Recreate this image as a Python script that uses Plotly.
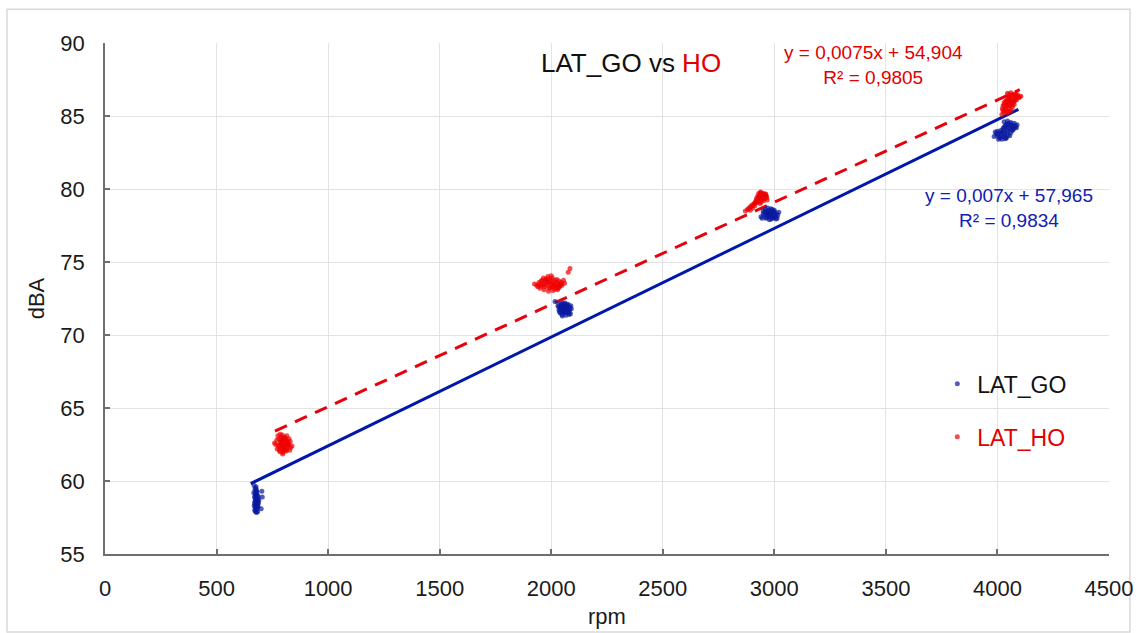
import plotly.graph_objects as go

# ---- data ----
go_x_a = [668,672,675,678,681,684,670,674,677,680,683,687,669,673,676,679,682,685,671,675,678,681,686,690,703,705,700,667,677,684,
          674,678,680,676,682,672,679,681,675,677,683,673,680,678,685,671,676,688,674,679]
go_y_a = [59.7,59.4,59.5,59.1,59.3,59.0,58.9,58.7,58.8,58.5,58.6,58.9,58.3,58.4,58.1,58.2,58.5,58.3,58.0,57.9,58.6,58.8,58.2,58.7,59.3,58.9,58.1,59.2,59.6,57.9,
          59.2,58.9,58.7,58.5,58.4,58.6,58.3,58.1,58.8,59.0,58.7,58.2,59.2,59.4,58.6,58.5,58.0,58.5,59.0,57.85]
go_x_b = [2030,2038,2045,2052,2060,2068,2075,2083,2035,2042,2050,2058,2066,2073,2081,2088,2040,2048,2056,2064,2072,2080,2046,2054,2062,2070,2017,2090,2034,2078,
          2044,2050,2056,2062,2068,2074,2040,2052,2064,2076,2046,2058,2070,2082,2050,2066,2086,2038,2060,2072]
go_y_b = [72.0,72.1,71.9,72.2,72.0,71.8,72.1,71.9,71.7,71.8,71.6,71.9,71.7,71.8,71.6,72.0,71.5,71.4,71.6,71.5,71.7,71.4,72.1,71.9,72.2,72.0,72.3,71.8,71.9,71.5,
          71.95,72.0,71.8,71.9,71.95,71.7,71.85,71.75,71.6,71.85,71.65,71.55,71.9,71.75,71.3,71.35,71.45,71.6,72.1,72.05]
go_x_c = [2950,2960,2970,2980,2990,3000,3010,2955,2965,2975,2985,2995,3005,3015,2945,2962,2978,2992,3008,2970,2985,3000,2940,3020,2958,2988,
          2962,2972,2982,2992,3002,2968,2978,2988,2998,3012,2950,2995,2975,2965,2985]
go_y_c = [78.5,78.6,78.4,78.5,78.6,78.4,78.3,78.2,78.3,78.1,78.2,78.3,78.1,78.2,78.0,78.0,77.9,78.0,77.95,78.7,78.65,78.55,78.1,78.4,78.45,78.35,
          78.4,78.3,78.35,78.45,78.25,78.15,78.25,78.1,78.05,78.0,78.3,78.5,78.55,78.05,77.95]
go_x_d = [4030,4045,4060,4075,4088,4035,4050,4065,4080,4025,4040,4055,4070,4085,3990,4000,4010,4020,4030,4045,4060,3985,3998,4012,4025,4040,4055,4005,4020,4035,
          4040,4050,4060,4070,4030,4045,4058,4072,4015,4028,4042,4002,4018,4032,4048,3995,4010,4038,4066,4080]
go_y_d = [84.6,84.65,84.55,84.5,84.4,84.35,84.4,84.3,84.25,84.15,84.2,84.1,84.05,84.2,83.9,83.95,83.85,83.9,83.8,83.9,83.85,83.6,83.65,83.55,83.6,83.5,83.65,83.4,83.4,83.45,
          84.45,84.5,84.45,84.35,84.25,84.3,84.2,84.15,84.0,84.05,84.0,83.75,83.7,83.75,83.7,83.8,83.5,83.55,84.0,84.35]

ho_x_a = [775,785,795,805,815,825,770,780,790,800,810,820,830,765,778,792,806,818,832,772,788,802,816,828,784,798,812,760,838,796,
          790,800,810,795,805,815,785,800,820,790,808,778,812,798,782,824,794,804,788,815]
ho_y_a = [63.1,63.2,63.15,63.0,63.1,62.9,62.8,62.9,62.7,62.85,62.75,62.6,62.7,62.5,62.45,62.55,62.4,62.5,62.3,62.2,62.25,62.15,62.3,62.1,62.0,61.95,62.05,62.6,62.4,61.85,
          63.0,62.95,62.9,62.6,62.65,62.55,62.6,62.35,62.4,62.3,62.2,62.35,62.1,62.1,62.1,62.55,62.85,62.45,62.75,62.75]
ho_x_b = [1925,1935,1945,1955,1965,1975,1985,1995,2005,2015,2025,2035,2045,2055,1960,1970,1980,1990,2000,2010,2020,2030,2040,1950,1968,1988,2008,2028,2048,2084,2076,1940,2060,
          1960,1972,1984,1996,2008,2020,2032,2044,1966,1978,1990,2002,2014,2026,2038,1955,1995,2015,1980,2000,1945,2035]
ho_y_b = [73.5,73.4,73.6,73.7,73.9,73.8,74.0,73.85,73.9,73.75,73.8,73.7,73.6,73.75,73.5,73.3,73.4,73.2,73.5,73.3,73.4,73.2,73.35,73.2,73.1,73.0,73.05,73.1,73.4,74.55,74.3,73.3,73.55,
          73.75,73.7,73.65,73.7,73.6,73.6,73.55,73.5,73.45,73.55,73.6,73.35,73.45,73.3,73.45,73.35,73.25,73.15,73.85,74.05,73.45,73.25]
ho_x_c = [2930,2940,2950,2960,2925,2935,2945,2955,2965,2920,2932,2944,2956,2968,2915,2928,2940,2952,2910,2922,2936,2900,2912,2890,2902,2880,2892,2870,2948,2958,
          2935,2945,2955,2962,2930,2940,2950,2960,2925,2918,2908,2896,2884,2942,2952,2965,2938,2948]
ho_y_c = [79.7,79.75,79.7,79.6,79.5,79.55,79.6,79.5,79.4,79.35,79.4,79.3,79.35,79.25,79.15,79.2,79.1,79.2,79.0,79.05,79.0,78.9,78.85,78.75,78.7,78.6,78.55,78.5,79.45,79.55,
          79.65,79.65,79.65,79.65,79.45,79.45,79.45,79.45,79.3,79.1,78.95,78.8,78.65,79.25,79.35,79.5,79.8,79.55]
ho_x_d = [4045,4060,4075,4090,4100,4050,4065,4080,4095,4040,4055,4070,4085,4030,4045,4060,4075,4025,4038,4052,4066,4022,4035,4048,4062,4028,4042,4056,4105,4020,
          4050,4062,4074,4086,4044,4056,4068,4080,4035,4048,4060,4072,4030,4042,4054,4068,4025,4036,4048,4082]
ho_y_d = [86.55,86.6,86.5,86.45,86.3,86.3,86.35,86.2,86.25,86.05,86.1,86.0,86.1,85.9,85.85,85.95,85.8,85.7,85.65,85.75,85.6,85.5,85.45,85.55,85.4,85.25,85.2,85.3,86.35,85.1,
          86.45,86.45,86.4,86.35,86.2,86.2,86.15,86.1,86.0,85.95,85.9,85.95,85.75,85.7,85.7,85.75,85.4,85.35,85.35,86.5]

# trend-line end points as drawn in the picture
go_fit_x = [653, 4094]
go_fit_y = [59.82, 85.46]
ho_fit_x = [762, 4100]
ho_fit_y = [63.42, 86.8]

x_ticks = [0, 500, 1000, 1500, 2000, 2500, 3000, 3500, 4000, 4500]
y_ticks = [55, 60, 65, 70, 75, 80, 85, 90]

title_text = "LAT_GO vs <span style='color:#e00000'>HO</span>"
ho_eq = "y = 0,0075x + 54,904<br>R² = 0,9805"
go_eq = "y = 0,007x + 57,965<br>R² = 0,9834"

FONT = "Liberation Sans, Arial, sans-serif"
BLUE = "#0a1aa0"
BLUE_LINE = "#0018aa"
RED = "#f00000"

fig = go.Figure()
fig.add_trace(go.Scatter(x=go_fit_x, y=go_fit_y, mode="lines", showlegend=False,
                         line=dict(color=BLUE_LINE, width=3), hoverinfo="skip"))
fig.add_trace(go.Scatter(x=ho_fit_x, y=ho_fit_y, mode="lines", showlegend=False,
                         line=dict(color="#e8000b", width=3, dash="13px,9px"), hoverinfo="skip"))
fig.add_trace(go.Scatter(x=go_x_a + go_x_b + go_x_c + go_x_d,
                         y=go_y_a + go_y_b + go_y_c + go_y_d,
                         mode="markers", name="LAT_GO", legendgroup="go",
                         marker=dict(color=BLUE, size=5, opacity=0.7)))
fig.add_trace(go.Scatter(x=ho_x_a + ho_x_b + ho_x_c + ho_x_d,
                         y=ho_y_a + ho_y_b + ho_y_c + ho_y_d,
                         mode="markers", name="<span style='color:#e00000'>LAT_HO</span>", legendgroup="ho",
                         marker=dict(color=RED, size=5, opacity=0.7)))

fig.add_annotation(xref="paper", yref="paper", x=0.524, y=0.960, text=title_text,
                   showarrow=False, font=dict(family=FONT, size=26, color="#111"),
                   xanchor="center", yanchor="middle")
fig.add_annotation(xref="paper", yref="paper", x=0.765, y=0.957, text=ho_eq,
                   showarrow=False, font=dict(family=FONT, size=19, color="#e00000"),
                   xanchor="center", yanchor="middle", align="center")
fig.add_annotation(xref="paper", yref="paper", x=0.9, y=0.678, text=go_eq,
                   showarrow=False, font=dict(family=FONT, size=19, color="#1020b0"),
                   xanchor="center", yanchor="middle", align="center")

# outer chart frame
fig.add_shape(type="rect", xref="paper", yref="paper", x0=-0.0976, x1=1.0209,
              y0=-0.1526, y1=1.0659, line=dict(color="#d9d9d9", width=1.5), layer="below")

axis_common = dict(showgrid=True, gridcolor="#e3e3e3", gridwidth=1,
                   showline=True, linecolor="#6e6e6e", linewidth=1.5,
                   ticks="inside", ticklen=5, tickcolor="#6e6e6e", tickwidth=1.5,
                   tickfont=dict(family=FONT, size=22, color="#1a1a1a"),
                   zeroline=False, automargin=False)

fig.update_xaxes(range=[0, 4500], tickvals=x_ticks, ticklabelstandoff=14,
                 title=dict(text="rpm", font=dict(family=FONT, size=22, color="#1a1a1a"), standoff=8),
                 **axis_common)
fig.update_yaxes(range=[55, 90], tickvals=y_ticks, ticklabelstandoff=14,
                 title=dict(text="dBA", font=dict(family=FONT, size=22, color="#1a1a1a"), standoff=10),
                 **axis_common)

fig.update_layout(
    width=1136, height=633,
    margin=dict(l=105, r=27, t=43, b=79),
    paper_bgcolor="white", plot_bgcolor="white",
    font=dict(family=FONT),
    legend=dict(x=0.829, y=0.375, xanchor="left", yanchor="top",
                font=dict(family=FONT, size=23, color="#111"),
                bgcolor="rgba(0,0,0,0)", borderwidth=0,
                traceorder="grouped", tracegroupgap=20, itemwidth=30),
)

fig.write_html("out.html")
